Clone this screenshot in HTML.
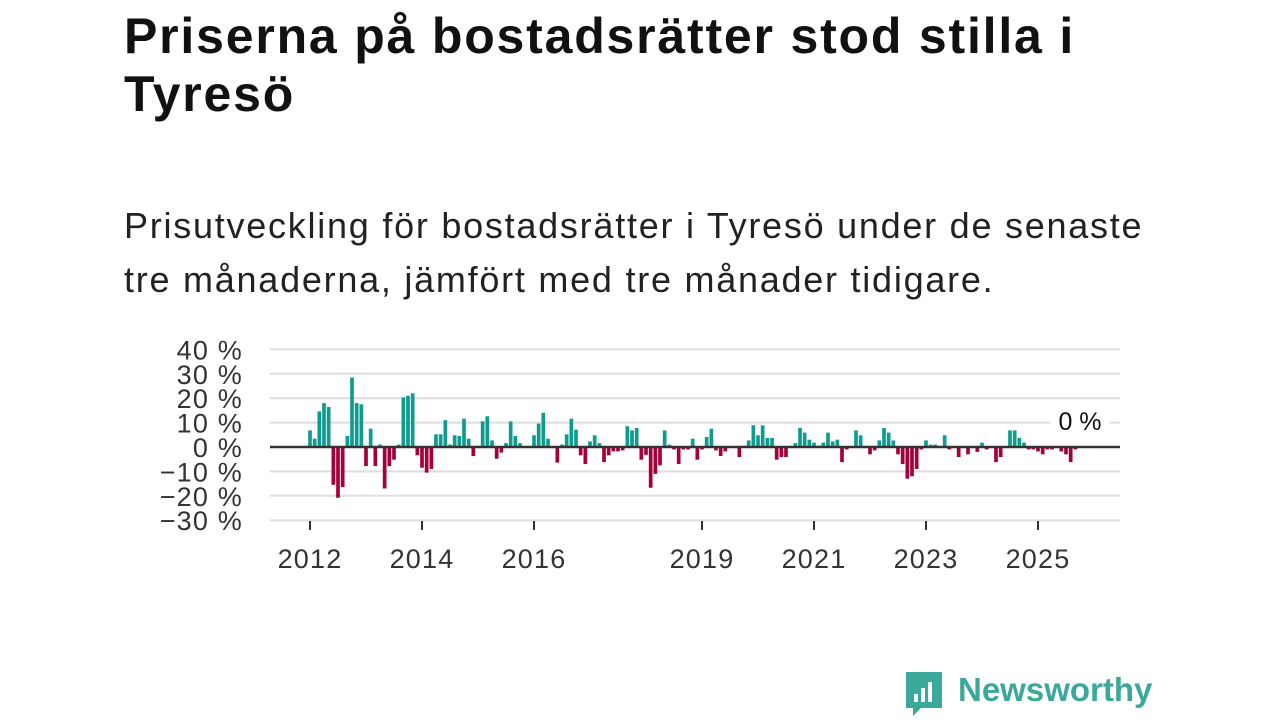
<!DOCTYPE html>
<html><head><meta charset="utf-8"><style>
body{margin:0;width:1280px;height:720px;background:#fff;font-family:"Liberation Sans",sans-serif;overflow:hidden;position:relative;color:#111}
h1{position:absolute;left:124px;top:7px;margin:0;font-size:50px;line-height:58px;font-weight:bold;letter-spacing:1.8px;white-space:nowrap}
p{position:absolute;left:124px;top:199px;margin:0;font-size:36px;line-height:54px;color:#222;letter-spacing:1.75px;white-space:nowrap}
</style></head><body>
<h1>Priserna på bostadsrätter stod stilla i<br>Tyresö</h1>
<p>Prisutveckling för bostadsrätter i Tyresö under de senaste<br>tre månaderna, jämfört med tre månader tidigare.</p>
<svg id="chart" width="1280" height="720" style="position:absolute;left:0;top:0"></svg>
<div style="position:absolute;left:903px;top:670px;height:44px">
<svg width="42" height="48" style="position:absolute;left:0;top:0"><path d="M3 2h36v36H18l-8 8v-8H3z" fill="#3aa89a"/><rect x="11" y="24" width="4" height="8" fill="#fff"/><rect x="18" y="18" width="4" height="14" fill="#fff"/><rect x="25" y="12" width="4" height="20" fill="#fff"/></svg>
<span style="position:absolute;left:55px;top:1px;font-size:33px;font-weight:bold;color:#3aa89a;white-space:nowrap">Newsworthy</span></div>
<script>
const values=[6.8,3.4,14.6,18,16.4,-15.5,-20.8,-16.4,4.5,28.5,18,17.5,-7.8,7.5,-7.8,1,-17,-7.8,-5.2,1,20.3,21,22,-3.4,-8.5,-10.5,-9,5.2,5.2,11,1,4.8,4.5,11.6,3.4,-3.7,0.5,10.5,12.6,2.7,-4.8,-2.3,1.6,10.5,4.5,1.6,0,0,4.8,9.6,14,3.4,0,-6.4,1,5.2,11.6,7.1,-3.4,-7,2.3,4.8,1.6,-6.2,-3.4,-1.8,-1.8,-1.4,8.5,6.8,7.8,-5.2,-3.2,-16.7,-11,-7.5,6.8,1,-1,-7,-1,-1,3.4,-5.2,-1,4.1,7.5,-1.4,-3.7,-1.8,0,0,-4.1,0.5,2.7,8.9,4.8,8.9,3.7,3.7,-5.2,-4.1,-4.1,0.5,1.6,7.8,5.9,3,1.8,0.5,1.8,5.9,2.3,3,-6.2,-1,0,6.8,4.8,0.5,-3,-1.4,2.7,7.8,5.9,2.7,-3,-7,-13,-12,-9,-1,2.7,1,1,0,4.8,-1,0,-4.1,0,-3,0,-2,1.8,-1,0,-6.2,-4.1,0.3,6.8,6.8,3.7,1.8,-1,-1,-1.8,-3,-1,-1,0,-1.8,-3,-6.2,-1];
const yTicks=[40,30,20,10,0,-10,-20,-30];
const yTickLabels=["40 %","30 %","20 %","10 %","0 %","−10 %","−20 %","−30 %"];
const xTickYears=[2012,2014,2016,2019,2021,2023,2025];
const startYear=2012;
const lastLabel="0 %";
const svg=document.getElementById('chart');const NS='http://www.w3.org/2000/svg';
function yOf(v){return 447-v*2.44;}
function xOf(i){return 310+i*56/12;}
function mk(t,a,txt){const e=document.createElementNS(NS,t);for(const k in a)e.setAttribute(k,a[k]);if(txt!=null)e.textContent=txt;svg.appendChild(e);return e;}
yTicks.forEach((v,k)=>{if(v!==0){const g=mk('line',{x1:270,x2:1120,y1:yOf(v),y2:yOf(v),stroke:'#ddd','stroke-width':2});

}
const t=mk('text',{x:243,y:yOf(v)+10,'text-anchor':'end','font-size':27,'letter-spacing':1.2,fill:'#333','font-family':'Liberation Sans'},yTickLabels[k]);

});
values.forEach((v,i)=>{const y0=yOf(0),y1=yOf(v);const r=mk('rect',{x:xOf(i)-1.85,y:Math.min(y0,y1),width:3.7,height:Math.max(Math.abs(y1-y0),0.01),fill:v>=0?'#0f9c8f':'#a3003c'});

});
const z=mk('line',{x1:270,x2:1120,y1:yOf(0),y2:yOf(0),stroke:'#333','stroke-width':2.5});


xTickYears.forEach(yr=>{const x=xOf((yr-startYear)*12);
const l=mk('line',{x1:x,x2:x,y1:521,y2:530,stroke:'#333','stroke-width':2});


const t=mk('text',{x:x,y:568,'text-anchor':'middle','font-size':27,'letter-spacing':1.2,fill:'#333','font-family':'Liberation Sans'},String(yr));

});
const bg=mk('rect',{x:1050,y:406,width:60,height:32,fill:'#fff'});


const lv=mk('text',{x:1080,y:430,'text-anchor':'middle','font-size':25,fill:'#111','font-family':'Liberation Sans'},lastLabel);


</script>
</body></html>
